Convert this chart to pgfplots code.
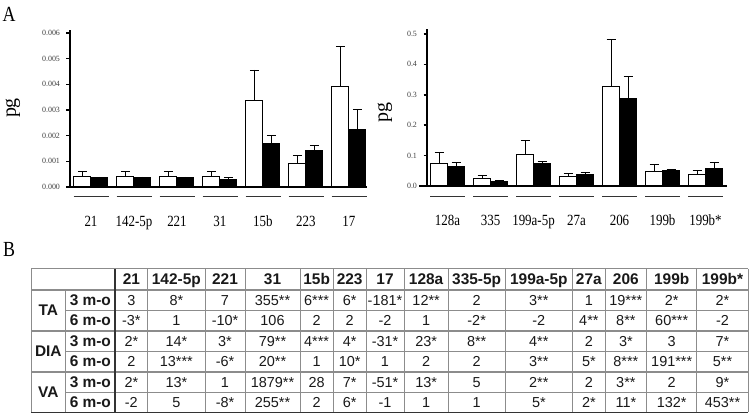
\documentclass[border=0pt]{standalone}
\usepackage{pgfplots}
\pgfplotsset{compat=1.18}
\usepackage{fontspec}
\setmainfont{Liberation Serif}
\newfontfamily\arial{Liberation Sans}
\usepackage{graphicx}
\newcommand{\vs}[1]{\scalebox{1}[1.2]{#1}}
\begin{document}
\begin{tikzpicture}
\useasboundingbox (0,0) rectangle (752bp,418bp);
\pgfplotsset{
  barax/.style={
    scale only axis, height=157bp,
    anchor=south west,
    axis lines*=left,
    axis line style={line width=1.6bp, black},
    ybar=0pt, bar width=17bp,
    ymin=0, enlargelimits=false,
    xtick={0,...,6},
    x tick style={draw=none},
    tick align=outside,
    major tick length=3.5bp,
    y tick style={line width=1.5bp, black},
    scaled y ticks=false,
    /pgf/number format/assume math mode=true,
    yticklabel style={font=\fontsize{8}{9}\selectfont, text=black!75, xshift=-3bp},
    xticklabel style={font=\fontsize{13}{15}\selectfont, anchor=base, yshift=-36.5bp},
    ylabel={pg},
    ylabel style={font=\fontsize{20}{22}\selectfont, anchor=center},
    clip=false,
    error bars/y dir=plus,
    error bars/y explicit,
    error bars/error bar style={line width=0.9bp, black},
    error bars/error mark options={rotate=90, mark size=4.5bp, line width=0.9bp, black},
  },
  wbar/.style={fill=white, draw=black, line width=1bp},
  kbar/.style={fill=black, draw=black, line width=1bp},
}
% ---------------- left panel ----------------
\begin{axis}[barax,
  at={(70bp,231bp)}, width=297bp,
  xmin=-0.488, xmax=6.42,
  ymax=0.006117,
  ytick={0,0.001,0.002,0.003,0.004,0.005,0.006},
  yticklabel style={/pgf/number format/fixed, /pgf/number format/zerofill, /pgf/number format/precision=3},
  xticklabels={\vs{21},\vs{142-5p},\vs{221},\vs{31},\vs{15b},\vs{223},\vs{17}},
  ylabel style={at={(axis description cs:-0.192,0.503)}},
]
\addplot[wbar] coordinates {
  (0,0.00042) +- (0,0.00019)
  (1,0.00042) +- (0,0.00019)
  (2,0.00042) +- (0,0.00019)
  (3,0.00042) +- (0,0.00019)
  (4,0.00338) +- (0,0.00118)
  (5,0.00090) +- (0,0.00033)
  (6,0.00392) +- (0,0.00156)
};
\addplot[kbar] coordinates {
  (0,0.00037) +- (0,0.00002)
  (1,0.00037) +- (0,0.00002)
  (2,0.00037) +- (0,0.00002)
  (3,0.00031) +- (0,0.00005)
  (4,0.00169) +- (0,0.00030)
  (5,0.00144) +- (0,0.00017)
  (6,0.00225) +- (0,0.00078)
};
\end{axis}
% ---------------- right panel ----------------
\begin{axis}[barax,
  at={(427bp,232bp)}, width=300bp,
  xmin=-0.477, xmax=6.5,
  ymax=0.5164,
  ytick={0,0.1,0.2,0.3,0.4,0.5},
  yticklabel style={/pgf/number format/fixed, /pgf/number format/zerofill, /pgf/number format/precision=1},
  xticklabels={\vs{128a},\vs{335},\vs{199a-5p},\vs{27a},\vs{206},\vs{199b},\vs{199b*}},
  ylabel style={at={(axis description cs:-0.14,0.47)}},
]
\addplot[wbar] coordinates {
  (0,0.0747) +- (0,0.035)
  (1,0.0263) +- (0,0.0087)
  (2,0.105) +- (0,0.045)
  (3,0.0296) +- (0,0.013)
  (4,0.3267) +- (0,0.156)
  (5,0.047) +- (0,0.025)
  (6,0.0394) +- (0,0.013)
};
\addplot[kbar] coordinates {
  (0,0.0636) +- (0,0.0143)
  (1,0.0154) +- (0,0.002)
  (2,0.0734) +- (0,0.0077)
  (3,0.037) +- (0,0.006)
  (4,0.2873) +- (0,0.074)
  (5,0.0525) +- (0,0.0022)
  (6,0.057) +- (0,0.0217)
};
\end{axis}
% extension of right x axis line
\draw[line width=1.6bp] (419bp,232bp) -- (428bp,232bp);
% category underlines
\foreach \c in {91,134,177,220,263,306,349,447.5,490.5,533.5,576.5,619.5,662.5,705.5}
  \draw[line width=0.9bp, black!80] (\c bp-17.5bp,222bp) -- (\c bp+17.5bp,222bp);
% panel letters
\node[font=\fontsize{18}{20}\selectfont, anchor=center] at (9bp,404bp) {\vs{A}};
\node[font=\fontsize{18}{20}\selectfont, anchor=center] at (9bp,169bp) {\vs{B}};
% ---------------- table ----------------
\begin{scope}[black!45]
  \draw[line width=1bp] (31bp,149bp) -- (748.3bp,149bp);
  \draw[line width=1.8bp] (31bp,128bp) -- (748.3bp,128bp);
  \draw[line width=1bp] (65.7bp,107.5bp) -- (748.3bp,107.5bp);
  \draw[line width=1.4bp] (31bp,87bp) -- (748.3bp,87bp);
  \draw[line width=1bp] (65.7bp,66.5bp) -- (748.3bp,66.5bp);
  \draw[line width=1.4bp] (31bp,46bp) -- (748.3bp,46bp);
  \draw[line width=1bp] (65.7bp,25.5bp) -- (748.3bp,25.5bp);
  \draw[line width=1bp] (31bp,5.5bp) -- (31bp,149bp);
  \draw[line width=1bp] (65.7bp,5.5bp) -- (65.7bp,128bp);
  \foreach \c in {147.7,205,245,300,333.3,366,404,448.3,505,572.7,605,646.7,696.7,748.3}
    \draw[line width=1bp] (\c bp,5.5bp) -- (\c bp,149bp);
\end{scope}
\draw[line width=1.8bp, black!80] (115bp,5.5bp) -- (115bp,149bp);
\draw[line width=1.6bp, black!80] (31bp,5.5bp) -- (748.3bp,5.5bp);
\def\colx{{131.35,176.35,225,272.5,316.65,349.65,385,426.15,476.65,538.85,588.85,625.85,671.7,722.5}}
\foreach \h [count=\i from 0] in {21,142-5p,221,31,15b,223,17,128a,335-5p,199a-5p,27a,206,199b,199b*}{
  \pgfmathsetmacro\cx{\colx[\i]}
  \node[anchor=base, font=\arial\bfseries\fontsize{15.5}{17}\selectfont, text=black!90, inner sep=0pt] at (\cx bp,133bp) {\h};
}
\foreach \yy/\lab/\vals in {
  112.5/3 m-o/{3,8*,7,355**,6***,6*,-181*,12**,2,3**,1,19***,2*,2*},
  92/6 m-o/{-3*,1,-10*,106,2,2,-2,1,-2*,-2,4**,8**,60***,-2},
  71.5/3 m-o/{2*,14*,3*,79**,4***,4*,-31*,23*,8**,4**,2,3*,3,7*},
  51/6 m-o/{2,13***,-6*,20**,1,10*,1,2,2,3**,5*,8***,191***,5**},
  30.5/3 m-o/{2*,13*,1,1879**,28,7*,-51*,13*,5,2**,2,3**,2,9*},
  10.3/6 m-o/{-2,5,-8*,255**,2,6*,-1,1,1,5*,2*,11*,132*,453**}}{
  \node[anchor=base, font=\arial\bfseries\fontsize{15.5}{17}\selectfont, text=black!90, inner sep=0pt] at (90.35bp,\yy bp) {\lab};
  \foreach \v [count=\i from 0] in \vals {
    \pgfmathsetmacro\cx{\colx[\i]}
    \node[anchor=base, font=\arial\fontsize{14.5}{16}\selectfont, text=black!90, inner sep=0pt] at (\cx bp,\yy bp) {\v};
  }
}
\foreach \yy/\g in {102/TA,61/DIA,20.3/VA}
  \node[anchor=base, font=\arial\bfseries\fontsize{15.5}{17}\selectfont, text=black!90, inner sep=0pt] at (48.35bp,\yy bp) {\g};
\end{tikzpicture}
\end{document}
